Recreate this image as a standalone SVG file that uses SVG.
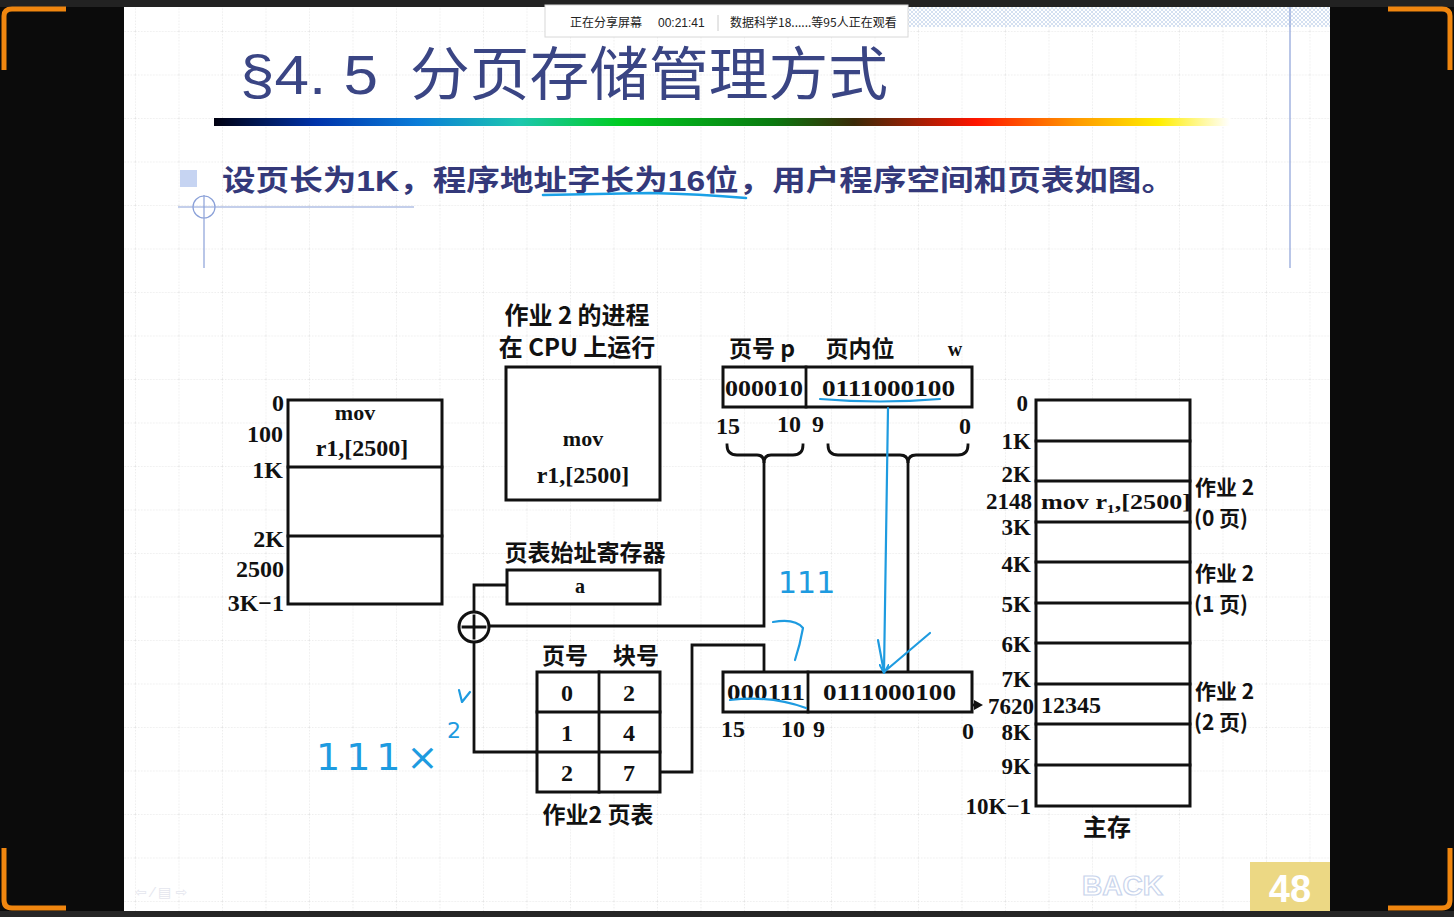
<svg xmlns="http://www.w3.org/2000/svg" width="1454" height="917" viewBox="0 0 1454 917">
<defs>
<style>
.ln{fill:none;stroke:#111;stroke-width:2.8;stroke-linecap:square}
.bx{fill:#fff;stroke:#111;stroke-width:3}
.sf{font-family:"Liberation Serif","Noto Serif",serif;font-weight:bold;fill:#111}
.cj{font-family:"Noto Sans CJK SC","Noto Sans",sans-serif;font-weight:bold;fill:#111}
.hw{fill:none;stroke:#1e9be0;stroke-width:2.2;stroke-linecap:round;stroke-linejoin:round}
.hwt{font-family:"DejaVu Sans",sans-serif;fill:#1e9be0}
.orn{fill:none;stroke:#f0860f;stroke-width:5}
</style>
<linearGradient id="rb" x1="0" y1="0" x2="1" y2="0">
<stop offset="0" stop-color="#000010"/>
<stop offset="0.1" stop-color="#0033aa"/>
<stop offset="0.2" stop-color="#0a7cd8"/>
<stop offset="0.3" stop-color="#1dc7b0"/>
<stop offset="0.4" stop-color="#00cc22"/>
<stop offset="0.55" stop-color="#0a7a10"/>
<stop offset="0.63" stop-color="#3a2a08"/>
<stop offset="0.75" stop-color="#ff1400"/>
<stop offset="0.85" stop-color="#ff9a00"/>
<stop offset="0.93" stop-color="#ffee00"/>
<stop offset="1" stop-color="#ffffff"/>
</linearGradient>
<pattern id="grid" x="135" y="31" width="43.5" height="43.5" patternUnits="userSpaceOnUse">
<path d="M0,0V43.5M0,0H43.5" fill="none" stroke="#dcdcdc" stroke-width="1" stroke-dasharray="1.5,1.5"/>
</pattern>
<pattern id="hatch" width="4" height="4" patternUnits="userSpaceOnUse">
<path d="M0,0L4,4M4,0L0,4" stroke="#c9d8ee" stroke-width="0.8"/>
</pattern>
<marker id="ah" markerWidth="10" markerHeight="10" refX="8" refY="5" orient="auto" markerUnits="userSpaceOnUse">
<path d="M0,0L9,5L0,10" fill="none" stroke="#1e9be0" stroke-width="2"/>
</marker>
</defs>

<g id="screen">
<rect x="0" y="0" width="1454" height="917" fill="#0b0b0b"/>
<rect x="0" y="0" width="1454" height="7" fill="#222"/>
<rect x="0" y="911" width="1454" height="6" fill="#262626"/>
<path class="orn" d="M4,70V16Q4,9 12,9H66"/>
<path class="orn" d="M1450,70V16Q1450,9 1442,9H1388"/>
<path class="orn" d="M4,848V900Q4,908 12,908H66"/>
<path class="orn" d="M1450,848V900Q1450,908 1442,908H1388"/>
</g>

<g id="slide">
<rect x="124" y="7" width="1206" height="904" fill="#ffffff"/>
<rect x="124" y="7" width="1206" height="904" fill="url(#grid)"/>
<rect x="908" y="7" width="422" height="20" fill="url(#hatch)"/>
<line x1="1290" y1="7" x2="1290" y2="268" stroke="#8aa0d8" stroke-width="1.2"/>
<line x1="178" y1="207" x2="414" y2="207" stroke="#8aa0d8" stroke-width="1.2"/>
<line x1="204" y1="195" x2="204" y2="268" stroke="#8aa0d8" stroke-width="1.2"/>
<circle cx="204" cy="207" r="11" fill="none" stroke="#8aa0d8" stroke-width="1.2"/>
<text x="240" y="94" font-family="Liberation Sans,Arial,sans-serif" font-size="56" fill="#3a4584" textLength="138" lengthAdjust="spacingAndGlyphs">§4. 5</text>
<text x="410" y="95" font-family="Noto Sans CJK SC,sans-serif" font-size="58" fill="#3a4584" textLength="478" lengthAdjust="spacingAndGlyphs">分页存储管理方式</text>
<rect x="214" y="118" width="1016" height="8" fill="url(#rb)"/>
<rect x="180" y="170" width="17" height="17" fill="#c6d4f2"/>
<text x="222" y="191" font-family="Noto Sans CJK SC,sans-serif" font-size="29" font-weight="bold" fill="#34397a" textLength="953" lengthAdjust="spacingAndGlyphs">设页长为<tspan font-family="Liberation Sans,sans-serif" font-weight="900">1K</tspan>，程序地址字长为<tspan font-family="Liberation Sans,sans-serif" font-weight="900">16</tspan>位，用户程序空间和页表如图。</text>
<path d="M543,195Q600,194 650,193Q700,194 746,198" fill="none" stroke="#1aa0e6" stroke-width="2.6" stroke-linecap="round"/>
</g>

<g id="notice">
<rect x="545" y="5" width="363" height="32" fill="#fff" stroke="#d8d8d8" stroke-width="1"/>
<text x="570" y="27" font-family="Noto Sans CJK SC,sans-serif" font-size="12" fill="#222">正在分享屏幕</text>
<text x="658" y="27" font-family="Liberation Sans,sans-serif" font-size="12" fill="#222">00:21:41</text>
<line x1="718" y1="15" x2="718" y2="31" stroke="#ccc"/>
<text x="730" y="27" font-family="Noto Sans CJK SC,sans-serif" font-size="12" fill="#222">数据科学18......等95人正在观看</text>
</g>

<g id="connectors">
<path class="ln" d="M507,585H474V612"/>
<path class="ln" d="M489,626H764V463"/>
<path class="ln" d="M474,642V752H537"/>
<path class="ln" d="M660,772H692V645H764V672"/>
<path class="ln" d="M908,463V672"/>
<path d="M727,445Q727,455 737,455H757Q764,455 764,463Q764,455 771,455H793Q803,455 803,445" class="ln"/>
<path d="M828,445Q828,455 838,455H900Q908,455 908,463Q908,455 916,455H958Q968,455 968,445" class="ln"/>
<path d="M972,705H976" class="ln"/>
<polygon points="974,700 983,705 974,710" fill="#111"/>
</g>

<g id="user-space">
<rect class="bx" x="288" y="400" width="154" height="204"/>
<line class="ln" x1="288" y1="467" x2="442" y2="467"/>
<line class="ln" x1="288" y1="536" x2="442" y2="536"/>
<text class="sf" x="355" y="420" font-size="22" text-anchor="middle">mov</text>
<text class="sf" x="362" y="456" font-size="24" text-anchor="middle">r1,[2500]</text>
<g class="sf" font-size="24" text-anchor="end">
<text x="284" y="411">0</text>
<text x="283" y="442">100</text>
<text x="283" y="478">1K</text>
<text x="284" y="547">2K</text>
<text x="284" y="577">2500</text>
<text x="284" y="611">3K−1</text>
</g>
</g>

<g id="cpu">
<text class="cj" x="577" y="324" font-size="24" text-anchor="middle">作业 2 的进程</text>
<text class="cj" x="577" y="356" font-size="24" text-anchor="middle">在 CPU 上运行</text>
<rect class="bx" x="506" y="367" width="154" height="133"/>
<text class="sf" x="583" y="446" font-size="22" text-anchor="middle">mov</text>
<text class="sf" x="583" y="483" font-size="24" text-anchor="middle">r1,[2500]</text>
</g>

<g id="ptr">
<text class="cj" x="585" y="561" font-size="23" text-anchor="middle">页表始址寄存器</text>
<rect class="bx" x="507" y="570" width="153" height="34"/>
<text class="sf" x="580" y="593" font-size="20" text-anchor="middle">a</text>
</g>

<g id="adder">
<circle cx="474" cy="627" r="15" fill="#fff" stroke="#111" stroke-width="3"/>
<path class="ln" d="M463,627H485M474,616V638"/>
</g>

<g id="page-table">
<text class="cj" x="565" y="664" font-size="23" text-anchor="middle">页号</text>
<text class="cj" x="636" y="664" font-size="23" text-anchor="middle">块号</text>
<rect class="bx" x="537" y="672" width="123" height="120"/>
<path class="ln" d="M599,672V792M537,712H660M537,752H660"/>
<g class="sf" font-size="24" text-anchor="middle">
<text x="567" y="701">0</text><text x="629" y="701">2</text>
<text x="567" y="741">1</text><text x="629" y="741">4</text>
<text x="567" y="781">2</text><text x="629" y="781">7</text>
</g>
<text class="cj" x="598" y="823" font-size="23" text-anchor="middle">作业2 页表</text>
</g>

<g id="logical-addr">
<text class="cj" x="762" y="357" font-size="23" text-anchor="middle">页号 p</text>
<text class="cj" x="860" y="357" font-size="23" text-anchor="middle">页内位</text>
<text class="sf" x="955" y="356" font-size="20" text-anchor="middle">w</text>
<rect class="bx" x="723" y="367" width="249" height="40"/>
<line class="ln" x1="806" y1="367" x2="806" y2="407"/>
<text class="sf" x="725" y="396" font-size="24" textLength="78" lengthAdjust="spacingAndGlyphs">000010</text>
<text class="sf" x="822" y="396" font-size="24" textLength="133" lengthAdjust="spacingAndGlyphs">0111000100</text>
<g class="sf" font-size="24">
<text x="716" y="434">15</text><text x="777" y="432">10</text><text x="812" y="432">9</text><text x="959" y="434">0</text>
</g>
</g>

<g id="physical-addr">
<rect class="bx" x="723" y="672" width="249" height="40"/>
<line class="ln" x1="808" y1="672" x2="808" y2="712"/>
<text class="sf" x="727" y="700" font-size="24" textLength="78" lengthAdjust="spacingAndGlyphs">000111</text>
<text class="sf" x="823" y="700" font-size="24" textLength="133" lengthAdjust="spacingAndGlyphs">0111000100</text>
<g class="sf" font-size="24">
<text x="721" y="737">15</text><text x="781" y="737">10</text><text x="813" y="737">9</text><text x="962" y="739">0</text>
</g>
</g>

<g id="memory">
<rect class="bx" x="1036" y="400" width="154" height="406"/>
<path class="ln" d="M1036,441H1190M1036,481H1190M1036,522H1190M1036,562H1190M1036,603H1190M1036,643H1190M1036,684H1190M1036,724H1190M1036,765H1190"/>
<g class="sf" font-size="23" text-anchor="end">
<text x="1028" y="411">0</text>
<text x="1031" y="449">1K</text>
<text x="1031" y="482">2K</text>
<text x="1032" y="509">2148</text>
<text x="1031" y="535">3K</text>
<text x="1031" y="572">4K</text>
<text x="1031" y="612">5K</text>
<text x="1031" y="652">6K</text>
<text x="1031" y="687">7K</text>
<text x="1034" y="714">7620</text>
<text x="1031" y="740">8K</text>
<text x="1031" y="774">9K</text>
<text x="1031" y="814">10K−1</text>
</g>
<text class="sf" x="1041" y="509" font-size="22" textLength="150" lengthAdjust="spacingAndGlyphs">mov r₁,[2500]</text>
<text class="sf" x="1041" y="713" font-size="24">12345</text>
<g class="cj" font-size="21">
<text x="1195" y="495">作业 2</text>
<text x="1194" y="526">(0 页)</text>
<text x="1195" y="581">作业 2</text>
<text x="1194" y="612">(1 页)</text>
<text x="1195" y="699">作业 2</text>
<text x="1194" y="730">(2 页)</text>
</g>
<text class="cj" x="1107" y="836" font-size="24" text-anchor="middle">主存</text>
</g>

<g id="annotations">
<path class="hw" d="M820,399Q880,404 940,399"/>
<path class="hw" d="M888,408L884,672" marker-end="url(#ah)"/>
<path class="hw" d="M878,640L884,672L930,633"/>
<path class="hw" d="M730,700Q770,695 806,708"/>
<text class="hwt" x="778" y="593" font-size="30">111</text>
<path class="hw" d="M773,622Q795,618 803,628Q800,645 795,660"/>
<text class="hwt" x="316" y="770" font-size="38" letter-spacing="6">111×</text>
<text class="hwt" x="447" y="738" font-size="22">2</text>
<path class="hw" d="M459,690L462,702L470,692"/>
</g>

<g id="footer">
<text x="135" y="897" font-family="DejaVu Sans,sans-serif" font-size="14" fill="#e4e6ee">⇦ ⁄ ▤ ⇨</text>
<text x="1082" y="895" font-family="Liberation Sans,sans-serif" font-size="28" font-weight="bold" fill="#fff" stroke="#c8d4ec" stroke-width="1.2">BACK</text>
<rect x="1250" y="862" width="80" height="49" fill="#ecd884"/>
<text x="1290" y="902" font-family="Liberation Sans,sans-serif" font-size="38" font-weight="bold" fill="#fff" text-anchor="middle">48</text>
</g>
</svg>
